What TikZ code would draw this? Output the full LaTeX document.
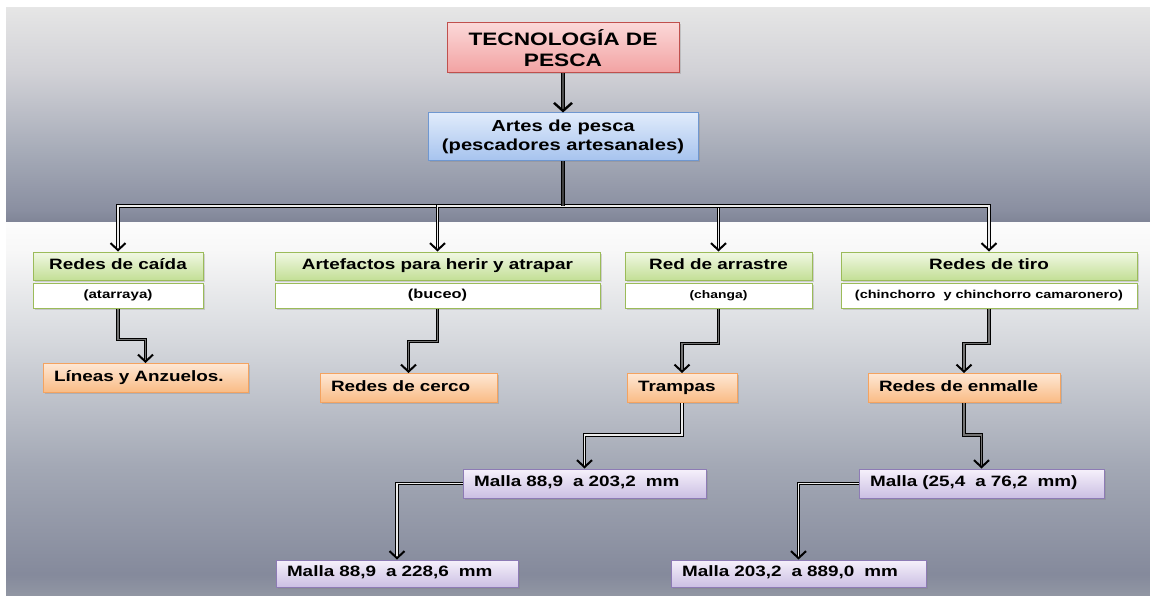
\documentclass[tikz,border=0pt]{standalone}
\usepackage{fontspec}
\setmainfont{Liberation Sans}[FakeStretch=1.26]
\usetikzlibrary{positioning, arrows.meta, shadows}

\definecolor{pinktop}{HTML}{FBD8D8}
\definecolor{pinkbot}{HTML}{F2A2A2}
\definecolor{pinkline}{HTML}{C0504D}
\definecolor{bluetop}{HTML}{E0EBFB}
\definecolor{bluebot}{HTML}{A6C3EE}
\definecolor{blueline}{HTML}{6F97D0}
\definecolor{greentop}{HTML}{F1F8E4}
\definecolor{greenbot}{HTML}{C3DF96}
\definecolor{greenline}{HTML}{9BBB59}
\definecolor{orangetop}{HTML}{FEE7D4}
\definecolor{orangebot}{HTML}{F9BB84}
\definecolor{orangeline}{HTML}{F4A360}
\definecolor{violettop}{HTML}{F6F1FB}
\definecolor{violetbot}{HTML}{CBBFE3}
\definecolor{violetline}{HTML}{8D7BB5}

\pgfdeclareverticalshading{upperband}{100bp}{rgb(0bp)=(0.50,0.52,0.59); rgb(25bp)=(0.50,0.52,0.59); rgb(27.8bp)=(0.54,0.56,0.63); rgb(41.4bp)=(0.65,0.67,0.72); rgb(60bp)=(0.82,0.82,0.84); rgb(75bp)=(0.90,0.90,0.90); rgb(100bp)=(0.90,0.90,0.90)}
\pgfdeclareverticalshading{lowerband}{100bp}{rgb(0bp)=(0.57,0.59,0.64); rgb(25bp)=(0.57,0.59,0.64); rgb(27.9bp)=(0.52,0.54,0.61); rgb(42.4bp)=(0.64,0.66,0.71); rgb(58.4bp)=(0.83,0.84,0.86); rgb(71.1bp)=(0.97,0.97,0.97); rgb(75bp)=(0.99,0.99,0.99); rgb(100bp)=(0.99,0.99,0.99)}

\newcommand{\fsz}[1]{\fontsize{#1pt}{1.18\dimexpr #1pt\relax}\selectfont}

\begin{document}
\begin{tikzpicture}[x=1pt, y=-1pt,
    box/.style={draw, line width=1pt, font=\bfseries\fsz{15}, inner sep=0pt,
      drop shadow={shadow xshift=1.5pt, shadow yshift=-1.5pt, opacity=0.3}},
    titlebox/.style={box, draw=pinkline, top color=pinktop, bottom color=pinkbot,
      minimum width=232pt, minimum height=50pt, align=center, font=\bfseries\fsz{18}},
    artbox/.style={box, draw=blueline, top color=bluetop, bottom color=bluebot,
      minimum width=270pt, minimum height=48pt, align=center, font=\bfseries\fsz{16}},
    oneline/.style={text height=0.74em, text depth=0.08em},
    headbox/.style={box, oneline, draw=greenline, top color=greentop, bottom color=greenbot,
      minimum width=#1, minimum height=28pt},
    subbox/.style={box, oneline, draw=greenline, fill=white, minimum width=#1, minimum height=25pt},
    leaf/.style={box, oneline, text width=#1, align=left, inner xsep=11pt, minimum height=29pt},
    gearbox/.style={leaf=#1, draw=orangeline, top color=orangetop, bottom color=orangebot},
    mallabox/.style={leaf=#1, draw=violetline, top color=violettop, bottom color=violetbot},
    link/.style={line width=0.8pt, double=#1, double distance=1.8pt,
      -{Straight Barb[length=7pt, width=15pt, line width=2pt]}},
    link/.default=white!85!gray]

  \useasboundingbox (0,0) rectangle (1150,596);
  \shade[shading=upperband] (6,8) rectangle (1150,222);
  \shade[shading=lowerband] (6,222) rectangle (1150,596);

  \node[titlebox] (title) at (563,48) {TECNOLOGÍA DE\\PESCA};
  \node[artbox] (artes) at (563,137) {Artes de pesca\\(pescadores artesanales)};
  \coordinate (hub) at (563,206);

  \node[headbox=170pt] (caida) at (118,266) {Redes de caída};
  \node[headbox=325pt] (artef) at (437.5,266) {Artefactos para herir y atrapar};
  \node[headbox=187pt] (arrastre) at (718.5,266) {Red de arrastre};
  \node[headbox=296pt] (tiro) at (989,266) {Redes de tiro};

  \node[subbox=170pt, below=2pt of caida] (caidasub) {\fsz{12}(atarraya)};
  \node[subbox=325pt, below=2pt of artef] (artefsub) {\fsz{13}(buceo)};
  \node[subbox=187pt, below=2pt of arrastre] (arrastresub) {\fsz{11}(changa)};
  \node[subbox=296pt, below=2pt of tiro] (tirosub) {\fsz{11.5}(chinchorro\ \ y chinchorro camaronero)};

  \node[gearbox=183pt] (lineas) at (145.5,378) {Líneas y Anzuelos.};
  \node[gearbox=155pt] (cerco) at (408.5,388) {Redes de cerco};
  \node[gearbox=88pt] (trampas) at (682,388) {Trampas};
  \node[gearbox=170pt] (enmalle) at (964,388) {Redes de enmalle};

  \node[mallabox=221pt] (malla1) at (584.5,483.5) {Malla 88,9\ \ a 203,2\ \ mm};
  \node[mallabox=223pt] (malla2) at (981.5,483.5) {Malla (25,4\ \ a 76,2\ \ mm)};
  \node[mallabox=220pt, minimum height=27pt] (malla3) at (397,573.5) {Malla 88,9\ \ a 228,6\ \ mm};
  \node[mallabox=233pt, minimum height=27pt] (malla4) at (798.5,573.5) {Malla 203,2\ \ a 889,0\ \ mm};

  \draw[link=black!70, line width=1pt, double distance=2pt,
    -{Straight Barb[length=8pt, width=18pt, line width=2.4pt]}] (title) -- (artes);
  \foreach \n in {caida, artef, arrastre, tiro}
    \draw[link] (hub) -| (\n.north);
  \draw[line width=1.4pt, double=black!75, double distance=1.8pt] (artes) -- (hub);

  \draw[link=black!55] (caidasub.south) -- ++(0,31) -| (lineas.north);
  \draw[link=black!55] (artefsub.south) -- ++(0,33) -| (cerco.north);
  \draw[link=black!55] (arrastresub.south) -- ++(0,35) -| (trampas.north);
  \draw[link=black!55] (tirosub.south) -- ++(0,35) -| (enmalle.north);

  \draw[link] (trampas.south) -- ++(0,32) -| (malla1.north);
  \draw[link=black!55] (enmalle.south) -- ++(0,32) -| (malla2.north);
  \draw[link] (malla1.west) -| (malla3.north);
  \draw[link] (malla2.west) -| (malla4.north);
\end{tikzpicture}
\end{document}
